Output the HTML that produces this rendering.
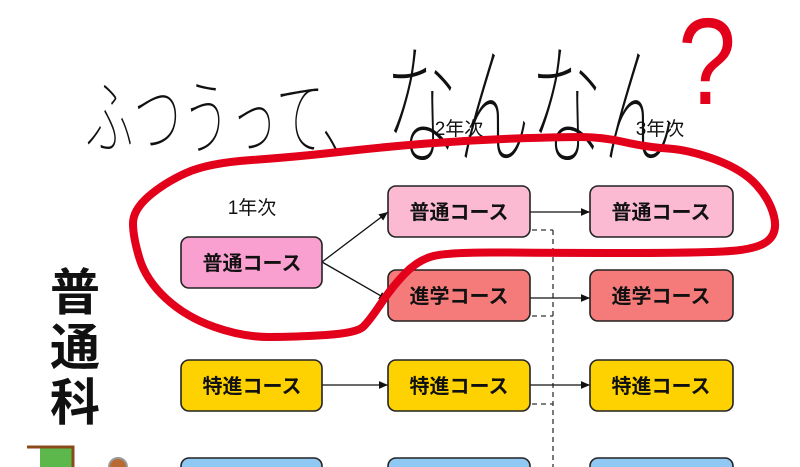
<!DOCTYPE html>
<html><head><meta charset="utf-8"><style>
html,body{margin:0;padding:0;background:#fff;overflow:hidden;width:800px;height:467px;}
svg{display:block;}
.b{stroke:#222;stroke-width:1.6;}
.t{font-family:"Liberation Sans","Noto Sans CJK JP",sans-serif;font-size:20px;font-weight:bold;text-anchor:middle;fill:#111;}
</style></head><body>
<svg width="800" height="467" viewBox="0 0 800 467" xmlns="http://www.w3.org/2000/svg">
<defs><marker id="a" markerWidth="8" markerHeight="8" refX="7" refY="4" orient="auto"><path d="M0,1 L7,4 L0,7z" fill="#111"/></marker></defs>
<!-- handwritten title -->
<g transform="translate(85,148) scale(1,1.4)">
<text x="0" y="0" font-family="'Noto Sans CJK JP Thin','Noto Sans CJK JP',sans-serif" font-weight="100" font-size="60" textLength="285" lengthAdjust="spacingAndGlyphs" fill="#111">ふつうって、</text></g>
<g transform="translate(385,155) scale(1,1.6)">
<text x="0" y="0" font-family="'Noto Sans CJK JP Thin','Noto Sans CJK JP',sans-serif" font-weight="100" font-size="84" textLength="290" lengthAdjust="spacingAndGlyphs" fill="#111">なんなん</text></g>
<g transform="translate(678,104) scale(1.1,1.3)">
<text x="0" y="0" font-family="'Liberation Sans',sans-serif" font-size="95" fill="#e2001a">?</text></g>
<!-- year labels -->
<text x="459" y="135" font-family="'Liberation Sans','Noto Sans CJK JP',sans-serif" font-size="19" text-anchor="middle" fill="#111">2年次</text>
<text x="660" y="135" font-family="'Liberation Sans','Noto Sans CJK JP',sans-serif" font-size="19" text-anchor="middle" fill="#111">3年次</text>
<text x="252" y="214" font-family="'Liberation Sans','Noto Sans CJK JP',sans-serif" font-size="19" text-anchor="middle" fill="#111">1年次</text>
<!-- 普通科 -->
<g font-family="'Noto Sans CJK JP',sans-serif" font-weight="bold" font-size="50" fill="#111" text-anchor="middle">
<text x="75" y="310">普</text><text x="75" y="365">通</text><text x="75" y="420">科</text></g>
<!-- dashed -->
<g stroke="#333" stroke-width="1.3" stroke-dasharray="5,4" fill="none">
<path d="M553,230 V467"/><path d="M532,230 H553"/><path d="M532,316 H553"/><path d="M532,404 H553"/></g>
<!-- connectors -->
<g stroke="#111" stroke-width="1.3" fill="none" marker-end="url(#a)">
<path d="M322,262 L388,212"/><path d="M322,262 L388,300"/>
<path d="M530,212 H590"/><path d="M530,298 H590"/><path d="M322,385 H388"/><path d="M530,385 H590"/></g>
<!-- boxes -->
<g class="b">
<rect x="181" y="237" width="141" height="51" rx="8" fill="#f9a0d0"/>
<rect x="388" y="186" width="142" height="51" rx="8" fill="#fbbad2"/>
<rect x="590" y="186" width="143" height="51" rx="8" fill="#fbbad2"/>
<rect x="388" y="270" width="142" height="51" rx="8" fill="#f57b7b"/>
<rect x="590" y="270" width="143" height="51" rx="8" fill="#f57b7b"/>
<rect x="181" y="360" width="141" height="51" rx="8" fill="#fdd200"/>
<rect x="388" y="360" width="142" height="51" rx="8" fill="#fdd200"/>
<rect x="590" y="360" width="143" height="51" rx="8" fill="#fdd200"/>
<rect x="181" y="458" width="141" height="51" rx="8" fill="#8fc8f2"/>
<rect x="388" y="458" width="142" height="51" rx="8" fill="#8fc8f2"/>
<rect x="590" y="458" width="143" height="51" rx="8" fill="#8fc8f2"/>
</g>
<g class="t">
<text x="252" y="270">普通コース</text>
<text x="459" y="219">普通コース</text>
<text x="661" y="219">普通コース</text>
<text x="459" y="303">進学コース</text>
<text x="661" y="303">進学コース</text>
<text x="252" y="393">特進コース</text>
<text x="459" y="393">特進コース</text>
<text x="661" y="393">特進コース</text>
</g>
<!-- bottom-left figures -->
<rect x="40" y="447" width="33" height="20" fill="#5cb84a"/>
<path d="M27,447 H73 V467" stroke="#8a4a1a" stroke-width="3" fill="none"/>
<circle cx="118" cy="467" r="9" fill="#b86a30" stroke="#999" stroke-width="2"/>
<!-- red loop -->
<path d="M148.5,196.5 Q164,183 186,173 Q208,163 251.5,160 Q295,157 339,152 Q383,147 427,143.5 Q471,140 515,138.5 Q559,137 580.5,137 Q602,137 624,142 Q646,147 668,148.5 Q690,150 716.5,160 Q743,170 756.5,185 Q770,200 774,216.5 Q778,233 767,241.5 Q756,250 723,251.5 Q690,253 624.5,253 Q559,253 504,252.5 Q449,252 433.5,256 Q418,260 405,273.5 Q392,287 381,303.5 Q370,320 363.5,326.5 Q357,333 326,335 Q295,337 269,337 Q243,337 214.5,327 Q186,317 166,298.5 Q146,280 139.5,258.5 Q133,237 133,223.5 Q133,210 148.5,196.5Z" fill="none" stroke="#e2001a" stroke-width="8" stroke-linecap="round" stroke-linejoin="round"/>
</svg>
</body></html>
